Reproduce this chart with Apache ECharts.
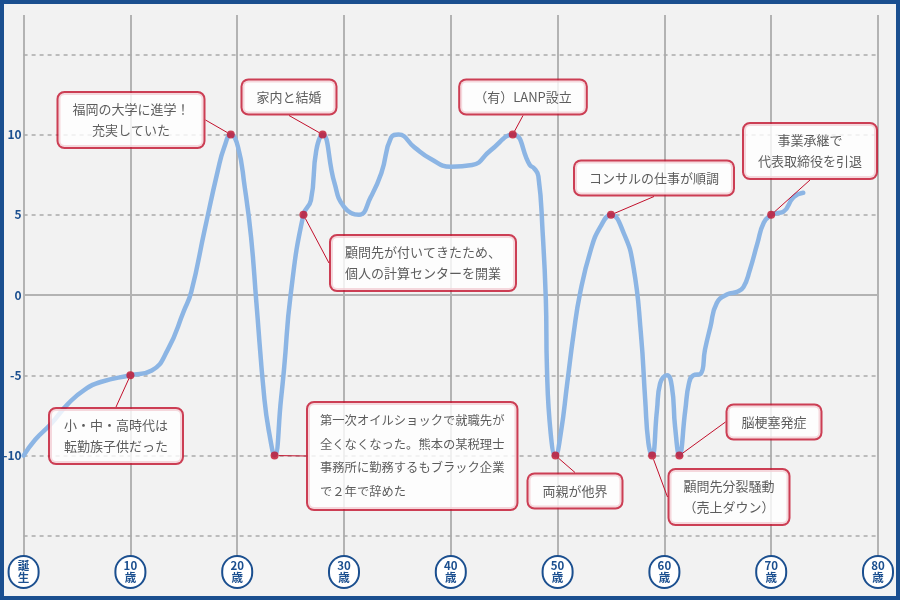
<!DOCTYPE html>
<html><head><meta charset="utf-8">
<script src="https://cdn.jsdelivr.net/npm/echarts@6/dist/echarts.min.js"></script>
<style>html,body{margin:0;padding:0;background:#f2f2f2}#c{width:900px;height:600px}</style>
</head><body><div id="c"></div>
<script>
// life curve (age, score)
const ages = [0,1.1,2.6,4.2,5.7,7.3,10,12,13.5,15,15.7,16.95,18.2,18.8,19.4,20.07,20.7,21.3,21.8,22.55,23.0,23.5,24.1,24.4,25.0,26.2,26.9,27.4,28.0,29.1,30.0,31.4,32.5,33.5,34.4,35.1,36.6,38.1,40,42,43.7,45.8,47.4,47.8,48.2,48.6,48.9,49.0,49.35,49.8,50.3,50.9,51.5,52.1,53.1,54.0,55,56.2,57.1,57.8,58.2,58.5,58.85,59.3,59.6,60.25,60.7,61.0,61.4,61.95,62.3,62.7,63.4,63.8,64.3,64.9,65.9,66.8,67.4,68.0,68.7,69.3,70,70.5,71.15,72.1,73];
const scores = [-10,-9,-8,-6.75,-5.9,-5.4,-5,-4.7,-3.4,-1.0,0.2,4.05,7.8,9.24,10,9.24,6.75,3.6,-0.5,-6.5,-8.6,-10,-6.5,-4.5,0,5,5.9,9.0,10,7.0,5.5,5,6.1,7.6,9.8,10,9.2,8.5,8.0,8.1,9.0,10,8.1,7.9,7.4,3.9,-0.3,-4.5,-8.6,-10,-8.6,-5.5,-2.4,0.1,2.8,4.25,5,3.85,1.76,-2.4,-6.5,-9.2,-10,-7.2,-5.5,-5,-5.7,-8.2,-10,-7.2,-5.5,-5.0,-4.9,-3.4,-2,-0.5,0.05,0.2,0.5,1.56,3.2,4.5,5,5.1,5.2,6.1,6.37];

// events
const evAges = [10, 19.4, 23.5, 26.2, 28.0, 45.8, 49.8, 55, 58.85, 61.4, 70];
const evScores = [-5, 10, -10, 5, 10, 10, -10, 5, -10, -10, 5];
const evTexts = [
  '小・中・高時代は\n転勤族子供だった',
  '福岡の大学に進学！\n充実していた',
  '第一次オイルショックで就職先が\n全くなくなった。熊本の某税理士\n事務所に勤務するもブラック企業\nで２年で辞めた',
  '顧問先が付いてきたため、\n個人の計算センターを開業',
  '家内と結婚',
  '（有）LANP設立',
  '両親が他界',
  'コンサルの仕事が順調',
  '顧問先分裂騒動\n（売上ダウン）',
  '脳梗塞発症',
  '事業承継で\n代表取締役を引退'
];

// axis labels
const xTickLabels = ['誕\n生','10\n歳','20\n歳','30\n歳','40\n歳','50\n歳','60\n歳','70\n歳','80\n歳'];
const yTickValues = [-10, -5, 0, 5, 10];
const yGridValues = [-15, -10, -5, 0, 5, 10, 15];

// layout of callout boxes (pixel positions: [x, y, align])
const boxLayout = [
  [116, 436, 'center'], [131, 120, 'center'], [308, 456, 'left'], [423, 263, 'center'],
  [289, 97, 'center'], [523, 97, 'center'], [575, 491, 'center'], [654, 178, 'center'],
  [729, 497, 'center'], [774, 422, 'center'], [810, 151, 'center']
];

const BLUE = '#1b4f8f';
const RED = '#c2102c';
const chart = echarts.init(document.getElementById('c'));
chart.setOption({
  backgroundColor: '#f2f2f2',
  animation: false,
  textStyle: { fontFamily: '"Noto Sans CJK JP", "Noto Sans", sans-serif' },
  graphic: [{
    type: 'rect', silent: true, z: 100,
    shape: { x: 2, y: 2, width: 896, height: 596 },
    style: { fill: 'none', stroke: BLUE, lineWidth: 4 }
  }],
  grid: { left: 22, right: 22, top: 15, bottom: 43 },
  xAxis: {
    type: 'value', min: 0, max: 80, interval: 10,
    axisLine: { show: false }, axisTick: { show: false },
    splitLine: { show: true, lineStyle: { color: '#b3b3b3', width: 2 } },
    axisLabel: {
      margin: 0,
      formatter: v => xTickLabels[Math.round(v / 10)],
      color: BLUE, fontWeight: 'bold', fontSize: 11.5, lineHeight: 12,
      backgroundColor: '#fff', borderColor: BLUE, borderWidth: 2, borderRadius: 16,
      width: 28, padding: [3, 0, 3, 0], align: 'center'
    }
  },
  yAxis: {
    type: 'value', min: -16.32, max: 17.45,
    axisLine: { show: false }, axisTick: { show: false },
    splitLine: { show: false },
    axisLabel: { customValues: yTickValues, color: BLUE, fontWeight: 'bold', fontSize: 12, margin: 2 }
  },
  series: [
    {
      type: 'line',
      data: ages.map((a, i) => [a, scores[i]]),
      smooth: 0.5,
      showSymbol: false,
      symbol: 'none',
      lineStyle: { color: '#8cb5e4', width: 4.5, cap: 'round' },
      z: 2,
      markLine: {
        silent: true, symbol: 'none', z: 1,
        label: { show: false },
        data: yGridValues.map(v => ({
          yAxis: v,
          lineStyle: v === 0
            ? { color: '#b3b3b3', width: 2, type: 'solid' }
            : { color: '#ababab', width: 1.5, type: [4, 4] }
        }))
      }
    },
    {
      type: 'scatter',
      z: 5,
      symbolSize: 8,
      itemStyle: { color: RED },
      data: evAges.map((a, i) => ({
        value: [a, evScores[i]],
        label: i === 2 ? { fontSize: 12.3, lineHeight: 23.5, padding: [6, 12] } : undefined
      })),
      label: {
        show: true,
        formatter: p => evTexts[p.dataIndex],
        color: '#333', fontSize: 13, lineHeight: 21,
        backgroundColor: '#fff', borderColor: RED, borderWidth: 2, borderRadius: 6,
        padding: [6, 14]
      },
      labelLayout: p => ({
        x: boxLayout[p.dataIndex][0], y: boxLayout[p.dataIndex][1],
        align: boxLayout[p.dataIndex][2], verticalAlign: 'middle',
        hideOverlap: false, moveOverlap: null
      }),
      labelLine: { show: true, lineStyle: { color: RED, width: 1 } }
    }
  ]
});
</script></body></html>
